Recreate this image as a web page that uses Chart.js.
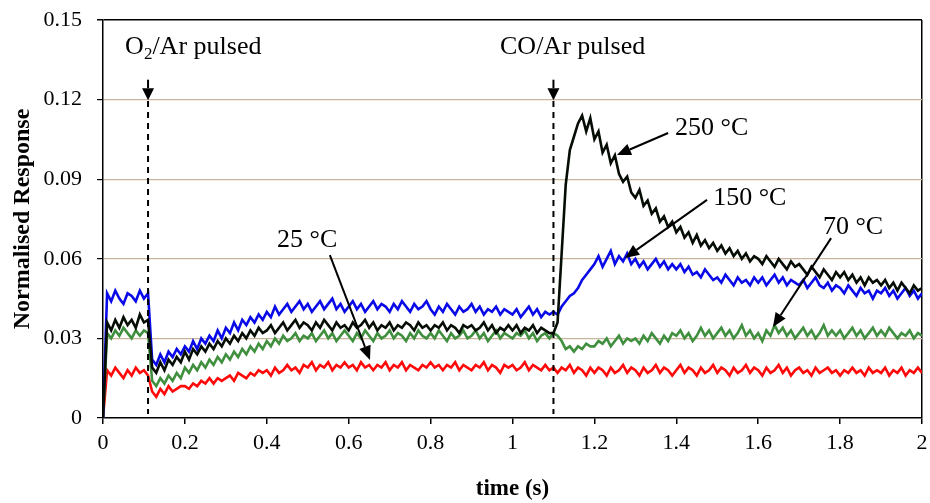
<!DOCTYPE html>
<html>
<head>
<meta charset="utf-8">
<script src="https://cdn.jsdelivr.net/npm/chart.js@4.4.1/dist/chart.umd.min.js"></script>
<style>
  html, body { margin: 0; padding: 0; background: #fff; }
</style>
</head>
<body>
<canvas id="responseChart" width="930" height="503"></canvas>
<script>
// sampling grid: one reading every 10 ms from 0 to 2 s
const timeStep = 0.01;
const times = [];
for (let i = 0; i <= 200; i++) times.push(+(i * timeStep).toFixed(2));

// normalised response, one row per 0.1 s
const resp250 = [
  0, 0.036, 0.033, 0.037, 0.034, 0.038, 0.035, 0.037, 0.034, 0.039,
  0.036, 0.037, 0.019, 0.017, 0.021, 0.018, 0.022, 0.020, 0.023, 0.021,
  0.025, 0.022, 0.026, 0.024, 0.027, 0.025, 0.028, 0.026, 0.029, 0.027,
  0.030, 0.028, 0.031, 0.029, 0.032, 0.030, 0.033, 0.031, 0.034, 0.032,
  0.033, 0.035, 0.032, 0.034, 0.036, 0.033, 0.035, 0.037, 0.034, 0.036,
  0.035, 0.033, 0.036, 0.034, 0.037, 0.035, 0.033, 0.036, 0.034, 0.035,
  0.033, 0.036, 0.034, 0.035, 0.037, 0.034, 0.036, 0.033, 0.035, 0.034,
  0.036, 0.033, 0.035, 0.034, 0.036, 0.035, 0.033, 0.036, 0.034, 0.035,
  0.033, 0.035, 0.034, 0.036, 0.033, 0.035, 0.034, 0.032, 0.035, 0.034,
  0.035, 0.033, 0.034, 0.036, 0.033, 0.035, 0.032, 0.034, 0.033, 0.035,
  0.033, 0.035, 0.032, 0.034, 0.033, 0.035, 0.032, 0.034, 0.033, 0.032,
  0.032, 0.036, 0.062, 0.088, 0.101, 0.106, 0.111, 0.114, 0.108, 0.113,
  0.105, 0.108, 0.100, 0.103, 0.096, 0.099, 0.092, 0.089, 0.091, 0.085,
  0.083, 0.086, 0.080, 0.082, 0.077, 0.079, 0.074, 0.076, 0.072, 0.074,
  0.070, 0.072, 0.068, 0.070, 0.066, 0.069, 0.065, 0.067, 0.064, 0.066,
  0.063, 0.065, 0.062, 0.064, 0.061, 0.063, 0.060, 0.062, 0.059, 0.061,
  0.060, 0.058, 0.061, 0.059, 0.057, 0.060, 0.058, 0.056, 0.059, 0.057,
  0.058, 0.056, 0.054, 0.057, 0.055, 0.053, 0.056, 0.054, 0.052, 0.055,
  0.053, 0.055, 0.052, 0.054, 0.051, 0.053, 0.050, 0.053, 0.051, 0.052,
  0.050, 0.052, 0.049, 0.051, 0.048, 0.051, 0.049, 0.047, 0.050, 0.048,
  0.049
];
const resp150 = [
  0, 0.047, 0.044, 0.048, 0.045, 0.043, 0.047, 0.046, 0.044, 0.048,
  0.045, 0.047, 0.022, 0.020, 0.024, 0.021, 0.025, 0.023, 0.026, 0.024,
  0.027, 0.025, 0.029, 0.026, 0.030, 0.028, 0.031, 0.029, 0.033, 0.030,
  0.034, 0.032, 0.036, 0.033, 0.037, 0.035, 0.038, 0.036, 0.039, 0.037,
  0.040, 0.038, 0.042, 0.039, 0.041, 0.043, 0.040, 0.042, 0.044, 0.041,
  0.043, 0.040, 0.042, 0.044, 0.041, 0.043, 0.045, 0.041, 0.043, 0.040,
  0.042, 0.044, 0.041, 0.043, 0.040, 0.042, 0.044, 0.041, 0.043, 0.042,
  0.040, 0.043, 0.041, 0.044, 0.042, 0.040, 0.043, 0.041, 0.042, 0.044,
  0.041, 0.039, 0.042, 0.040, 0.043, 0.041, 0.039, 0.042, 0.040, 0.041,
  0.043, 0.040, 0.042, 0.039, 0.041, 0.040, 0.042, 0.039, 0.041, 0.040,
  0.039, 0.041, 0.038, 0.040, 0.042, 0.039, 0.041, 0.038, 0.040, 0.039,
  0.040, 0.039, 0.042, 0.044, 0.046, 0.047, 0.049, 0.052, 0.054, 0.056,
  0.058, 0.061, 0.057, 0.060, 0.063, 0.058, 0.061, 0.059, 0.062, 0.058,
  0.060, 0.057, 0.059, 0.056, 0.058, 0.060, 0.057, 0.059, 0.056, 0.058,
  0.056, 0.058, 0.055, 0.057, 0.054, 0.055, 0.053, 0.056, 0.054, 0.052,
  0.053, 0.051, 0.054, 0.052, 0.050, 0.053, 0.051, 0.052, 0.050, 0.053,
  0.051, 0.053, 0.050, 0.052, 0.054, 0.051, 0.053, 0.050, 0.052, 0.051,
  0.050, 0.052, 0.049, 0.051, 0.053, 0.050, 0.049, 0.051, 0.048, 0.050,
  0.049, 0.047, 0.050, 0.048, 0.046, 0.049, 0.047, 0.048, 0.045, 0.048,
  0.047, 0.049, 0.046, 0.048, 0.045, 0.047, 0.049, 0.046, 0.048, 0.045,
  0.047
];
const resp70 = [
  0, 0.032, 0.030, 0.033, 0.031, 0.034, 0.032, 0.030, 0.033, 0.031,
  0.033, 0.032, 0.014, 0.012, 0.015, 0.013, 0.016, 0.014, 0.017, 0.015,
  0.019, 0.017, 0.020, 0.018, 0.021, 0.019, 0.022, 0.020, 0.023, 0.021,
  0.024, 0.022, 0.025, 0.023, 0.026, 0.024, 0.027, 0.025, 0.028, 0.026,
  0.029, 0.027, 0.030, 0.028, 0.031, 0.029, 0.030, 0.032, 0.029, 0.031,
  0.030, 0.032, 0.029, 0.031, 0.033, 0.030, 0.032, 0.029, 0.031, 0.033,
  0.031, 0.029, 0.032, 0.030, 0.033, 0.031, 0.029, 0.032, 0.030, 0.031,
  0.033, 0.030, 0.032, 0.031, 0.029, 0.032, 0.030, 0.033, 0.031, 0.030,
  0.032, 0.030, 0.033, 0.031, 0.029, 0.032, 0.030, 0.031, 0.033, 0.030,
  0.031, 0.033, 0.030, 0.032, 0.029, 0.031, 0.033, 0.030, 0.032, 0.031,
  0.030, 0.032, 0.031, 0.033, 0.030, 0.032, 0.029, 0.031, 0.032, 0.030,
  0.032, 0.031, 0.029, 0.026, 0.027, 0.025, 0.027, 0.026, 0.028, 0.027,
  0.027, 0.029, 0.028, 0.030, 0.027, 0.029, 0.031, 0.028, 0.030, 0.029,
  0.030, 0.028, 0.031, 0.029, 0.032, 0.030, 0.028, 0.031, 0.029, 0.032,
  0.031, 0.033, 0.030, 0.032, 0.029, 0.031, 0.034, 0.031, 0.033, 0.030,
  0.032, 0.034, 0.031, 0.033, 0.030, 0.032, 0.035, 0.031, 0.033, 0.030,
  0.032, 0.029, 0.033, 0.031, 0.035, 0.032, 0.034, 0.031, 0.033, 0.030,
  0.032, 0.034, 0.031, 0.033, 0.030, 0.032, 0.035, 0.031, 0.033, 0.031,
  0.033, 0.030, 0.032, 0.034, 0.031, 0.033, 0.030, 0.032, 0.034, 0.031,
  0.033, 0.031, 0.034, 0.032, 0.030, 0.032, 0.031, 0.033, 0.030, 0.032,
  0.031
];
const resp25 = [
  0, 0.018, 0.016, 0.019, 0.017, 0.015, 0.018, 0.016, 0.019, 0.017,
  0.018, 0.016, 0.010, 0.008, 0.011, 0.009, 0.012, 0.010, 0.011, 0.012,
  0.012, 0.011, 0.013, 0.012, 0.014, 0.013, 0.015, 0.013, 0.015, 0.014,
  0.015, 0.016, 0.014, 0.017, 0.016, 0.015, 0.017, 0.016, 0.018, 0.017,
  0.018, 0.016, 0.019, 0.017, 0.018, 0.020, 0.018, 0.019, 0.017, 0.020,
  0.019, 0.021, 0.018, 0.020, 0.019, 0.021, 0.018, 0.020, 0.019, 0.021,
  0.019, 0.020, 0.018, 0.021, 0.019, 0.020, 0.018, 0.020, 0.019, 0.021,
  0.018, 0.020, 0.019, 0.021, 0.018, 0.020, 0.019, 0.018, 0.020, 0.019,
  0.021, 0.019, 0.020, 0.018, 0.020, 0.019, 0.021, 0.018, 0.020, 0.019,
  0.018, 0.020, 0.019, 0.021, 0.018, 0.020, 0.019, 0.017, 0.020, 0.019,
  0.020, 0.018, 0.019, 0.021, 0.018, 0.020, 0.019, 0.018, 0.020, 0.018,
  0.019, 0.017, 0.019, 0.018, 0.020, 0.017, 0.019, 0.018, 0.016, 0.019,
  0.017, 0.019, 0.018, 0.016, 0.019, 0.017, 0.018, 0.020, 0.017, 0.019,
  0.018, 0.016, 0.019, 0.017, 0.018, 0.020, 0.017, 0.019, 0.018, 0.016,
  0.018, 0.020, 0.017, 0.019, 0.018, 0.016, 0.019, 0.017, 0.018, 0.020,
  0.017, 0.019, 0.018, 0.016, 0.019, 0.017, 0.018, 0.020, 0.017, 0.019,
  0.018, 0.016, 0.019, 0.017, 0.018, 0.020, 0.017, 0.019, 0.016, 0.018,
  0.019, 0.017, 0.018, 0.016, 0.019, 0.017, 0.018, 0.019, 0.017, 0.018,
  0.016, 0.018, 0.017, 0.019, 0.017, 0.018, 0.016, 0.019, 0.017, 0.018,
  0.017, 0.019, 0.016, 0.018, 0.017, 0.019, 0.016, 0.018, 0.017, 0.019,
  0.017
];

const xTickLabels = ['0', '0.2', '0.4', '0.6', '0.8', '1', '1.2', '1.4', '1.6', '1.8', '2'];
const yTickLabels = ['0', '0.03', '0.06', '0.09', '0.12', '0.15'];

// pulse markers (time in s) and their captions
const pulseTimes = [0.11, 1.1];
const pulseLabels = [['O', '2', '/Ar pulsed'], ['CO/Ar pulsed']];
const pulseLabelAt = [[0.054, 0.1398], [0.9695, 0.1398]];

// temperature captions: text anchor, arrow start, arrow tip (time, response)
const tempLabels = ['250 °C', '150 °C', '70 °C', '25 °C'];
const tempLabelAt = [[1.397, 0.1093], [1.490, 0.0829], [1.758, 0.0720], [0.425, 0.0671]];
const tempArrowFrom = [[1.380, 0.1074], [1.475, 0.0822], [1.778, 0.0678], [0.554, 0.0614]];
const tempArrowTo = [[1.255, 0.0991], [1.275, 0.0603], [1.636, 0.0343], [0.652, 0.0219]];

const SERIF = '"Liberation Serif", "Times New Roman", serif';

function toPoints(vals) {
  return vals.map((v, i) => ({ x: times[i], y: v }));
}

function drawArrow(ctx, x1, y1, x2, y2, headLen, headHalf) {
  const a = Math.atan2(y2 - y1, x2 - x1);
  const bx = x2 - headLen * Math.cos(a), by = y2 - headLen * Math.sin(a);
  ctx.beginPath();
  ctx.moveTo(x1, y1);
  ctx.lineTo(bx, by);
  ctx.stroke();
  ctx.beginPath();
  ctx.moveTo(x2, y2);
  ctx.lineTo(bx + headHalf * Math.sin(a), by - headHalf * Math.cos(a));
  ctx.lineTo(bx - headHalf * Math.sin(a), by + headHalf * Math.cos(a));
  ctx.closePath();
  ctx.fill();
}

const notesPlugin = {
  id: 'notes',
  afterDatasetsDraw(chart) {
    const ctx = chart.ctx;
    const xs = chart.scales.x, ys = chart.scales.y;
    const px = t => xs.getPixelForValue(t);
    const py = v => ys.getPixelForValue(v);
    ctx.save();
    ctx.fillStyle = '#000';
    ctx.strokeStyle = '#000';

    pulseTimes.forEach((t, i) => {
      const X = px(t);
      ctx.lineWidth = 2;
      ctx.setLineDash([6, 5]);
      ctx.beginPath();
      ctx.moveTo(X, py(0.1195));
      ctx.lineTo(X, py(0.0015));
      ctx.stroke();
      ctx.setLineDash([]);
      drawArrow(ctx, X, py(0.1275), X, py(0.1198), 12, 6);

      // caption, with subscript parts
      let cx = px(pulseLabelAt[i][0]);
      const cy = py(pulseLabelAt[i][1]);
      ctx.textBaseline = 'middle';
      ctx.textAlign = 'left';
      pulseLabels[i].forEach((part, k) => {
        const isSub = pulseLabels[i].length > 1 && k === 1;
        ctx.font = (isSub ? '17px ' : '26px ') + SERIF;
        ctx.fillText(part, cx, isSub ? cy + 7 : cy);
        cx += ctx.measureText(part).width;
      });
    });

    ctx.lineWidth = 2;
    ctx.font = '26px ' + SERIF;
    ctx.textBaseline = 'middle';
    ctx.textAlign = 'left';
    tempLabels.forEach((txt, i) => {
      ctx.fillText(txt, px(tempLabelAt[i][0]), py(tempLabelAt[i][1]));
      drawArrow(ctx, px(tempArrowFrom[i][0]), py(tempArrowFrom[i][1]),
                px(tempArrowTo[i][0]), py(tempArrowTo[i][1]), 14, 6);
    });
    ctx.restore();
  }
};

const lineStyle = { pointRadius: 0, borderWidth: 2.6, tension: 0, fill: false, borderJoinStyle: 'miter' };

new Chart(document.getElementById('responseChart'), {
  type: 'line',
  data: {
    datasets: [
      Object.assign({ label: '250 °C', data: toPoints(resp250), borderColor: '#050d05' }, lineStyle),
      Object.assign({ label: '150 °C', data: toPoints(resp150), borderColor: '#0a0ae8' }, lineStyle),
      Object.assign({ label: '70 °C', data: toPoints(resp70), borderColor: '#3f8f3f' }, lineStyle),
      Object.assign({ label: '25 °C', data: toPoints(resp25), borderColor: '#ff0a0a' }, lineStyle)
    ]
  },
  options: {
    responsive: false,
    animation: false,
    devicePixelRatio: 1,
    layout: { padding: { top: 20, right: 8, left: 0, bottom: 0 } },
    plugins: { legend: { display: false }, tooltip: { enabled: false } },
    scales: {
      x: {
        type: 'linear',
        min: 0, max: 2,
        ticks: {
          stepSize: 0.2, autoSkip: false, maxRotation: 0, padding: 6,
          color: '#000', font: { family: SERIF, size: 22 },
          callback: (v, i) => xTickLabels[i]
        },
        grid: {
          drawOnChartArea: true,
          color: c => (c.tick && Math.abs(c.tick.value - 2) < 1e-9) ? '#000' : 'rgba(0,0,0,0)',
          lineWidth: 1.5,
          tickColor: '#000', tickLength: 6
        },
        border: { color: '#000', width: 1.5 },
        title: {
          display: true, text: 'time (s)', color: '#000',
          font: { family: SERIF, size: 23, weight: 'bold' },
          padding: { top: 0, bottom: 0 }
        },
        afterFit: s => { s.height = 85; s.paddingLeft = 0; s.paddingRight = 0; }
      },
      y: {
        min: 0, max: 0.15,
        ticks: {
          stepSize: 0.03, autoSkip: false, padding: 15,
          color: '#000', font: { family: SERIF, size: 22 },
          callback: (v, i) => yTickLabels[i]
        },
        grid: {
          color: c => {
            if (!c.tick) return 'rgba(0,0,0,0)';
            if (Math.abs(c.tick.value - 0.15) < 1e-9) return '#000';
            if (c.tick.value < 1e-9) return 'rgba(0,0,0,0)';
            return '#c8b59c';
          },
          lineWidth: c => (c.tick && Math.abs(c.tick.value - 0.15) < 1e-9) ? 1.5 : 1.2,
          tickColor: '#000', tickLength: 6
        },
        border: { color: '#000', width: 1.5 },
        title: {
          display: true, text: 'Normalised Response', color: '#000',
          font: { family: SERIF, size: 24, weight: 'bold' },
          padding: { top: 8, bottom: 0 }
        },
        afterFit: s => { s.width = 103; s.paddingTop = 0; s.paddingBottom = 0; }
      }
    }
  },
  plugins: [notesPlugin]
});
</script>
</body>
</html>
